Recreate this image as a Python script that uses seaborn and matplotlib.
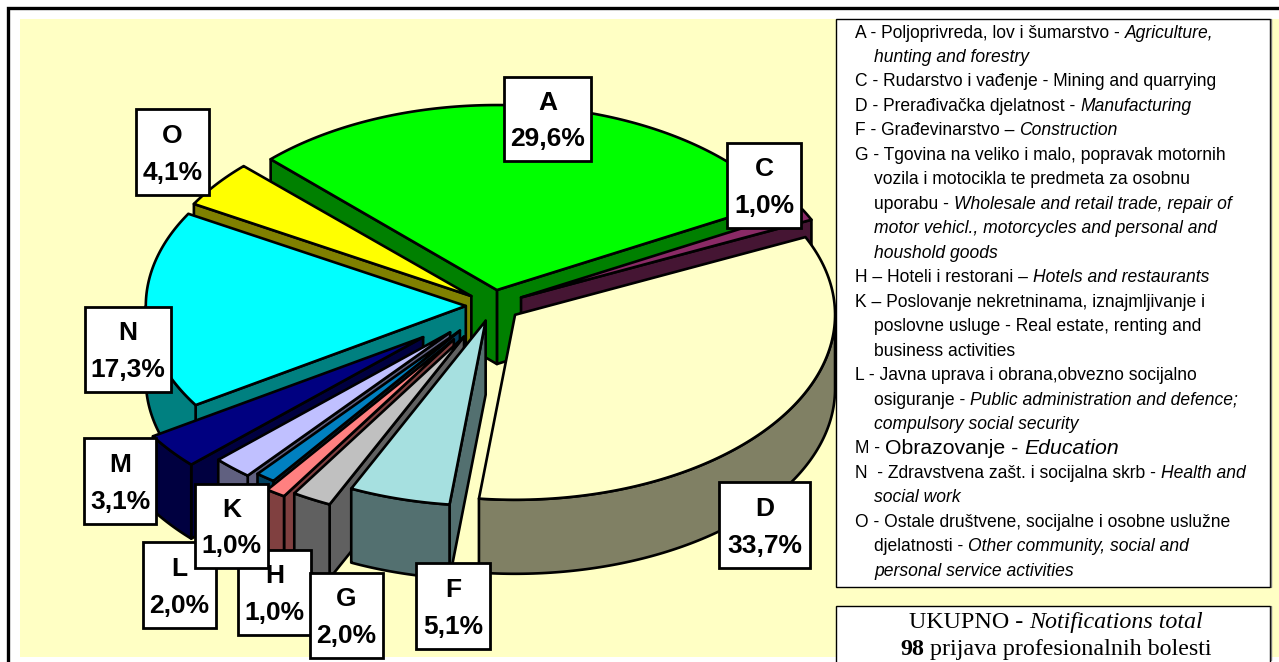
import matplotlib
matplotlib.use('Agg')
import matplotlib.pyplot as plt
from matplotlib.patches import Polygon, Rectangle
import numpy as np
import seaborn as sns

# data, clockwise from the top left edge of A
sections = ['A', 'C', 'D', 'F', 'G', 'H', 'K', 'L', 'M', 'N', 'O']
shares = [29.6, 1.0, 33.7, 5.1, 2.0, 1.0, 1.0, 2.0, 3.1, 17.3, 4.1]
top_colors = ['#00ff00', '#8a2a66', '#ffffc8', '#a6e0e0', '#c0c0c0', '#ff8080',
              '#0080c0', '#c0c0ff', '#000080', '#00ffff', '#ffff00']
explode = [.085, .098, .085, .085, .19, .22, .17, .197, .277, .085, .085]
draw_order = ['A', 'C', 'D', 'O', 'N', 'M', 'L', 'K', 'H', 'G', 'F']

legend_lines = [
    [('A - Poljoprivreda, lov i šumarstvo - ', 'n'), ('Agriculture,', 'i')],
    ['  ', ('hunting and forestry', 'i')],
    [('C - Rudarstvo i vađenje - Mining and quarrying', 'n')],
    [('D - Prerađivačka djelatnost - ', 'n'), ('Manufacturing', 'i')],
    [('F - Građevinarstvo – ', 'n'), ('Construction', 'i')],
    [('G - Tgovina na veliko i malo, popravak motornih', 'n')],
    ['  ', ('vozila i motocikla te predmeta za osobnu', 'n')],
    ['  ', ('uporabu - ', 'n'), ('Wholesale and retail trade, repair of', 'i')],
    ['  ', ('motor vehicl., motorcycles and personal and', 'i')],
    ['  ', ('houshold goods', 'i')],
    [('H – Hoteli i restorani – ', 'n'), ('Hotels and restaurants', 'i')],
    [('K – Poslovanje nekretninama, iznajmljivanje i', 'n')],
    ['  ', ('poslovne usluge - Real estate, renting and', 'n')],
    ['  ', ('business activities', 'n')],
    [('L - Javna uprava i obrana,obvezno socijalno', 'n')],
    ['  ', ('osiguranje - ', 'n'), ('Public administration and defence;', 'i')],
    ['  ', ('compulsory social security', 'i')],
    [('M - ', 'n'), ('Obrazovanje - ', 'w'), ('Education', 'wi')],
    [('N  - Zdravstvena zašt. i socijalna skrb - ', 'n'), ('Health and', 'i')],
    ['  ', ('social work', 'i')],
    [('O - Ostale društvene, socijalne i osobne uslužne', 'n')],
    ['  ', ('djelatnosti - ', 'n'), ('Other community, social and', 'i')],
    ['  ', ('personal service activities', 'i')],
]

sns.set_theme(style='white')

fig = plt.figure(figsize=(12.79, 6.62), dpi=100, facecolor='white')
ax = fig.add_axes([0, 0, 1, 1])
ax.set_xlim(0, 1279)
ax.set_ylim(662, 0)
ax.axis('off')

ax.add_patch(Rectangle((20, 19), 1259, 638, fc='#ffffc4', ec='none', zorder=0))
ax.plot([8, 8, 1279], [662, 8, 8], color='black', lw=2.4, solid_joinstyle='miter', zorder=1)

# pie geometry in pixels
cx, cy = 493, 305.6
rx, ry = 320, 185
depth = 74
edge = dict(ec='black', lw=1.9, joinstyle='round')


def point(x0, y0, deg):
    rad = np.radians(deg)
    return x0 + rx * np.cos(rad), y0 - ry * np.sin(rad)


def arc(x0, y0, a, b):
    deg = np.linspace(a, b, 120)
    return np.column_stack(point(x0, y0, deg))


palette = sns.color_palette(top_colors)
angles = 135 - np.concatenate([[0], np.cumsum(shares)]) * 3.6

z = 2
for name in draw_order:
    i = sections.index(name)
    start, end = angles[i], angles[i + 1]
    mid = (start + end) / 2
    x0, y0 = point(cx, cy, mid)
    x0 = cx + explode[i] * (x0 - cx)
    y0 = cy + explode[i] * (y0 - cy)
    side = tuple(c * .5 for c in palette[i])
    # only the walls that face the viewer
    walls = []
    if np.cos(np.radians(end)) > 0:
        walls.append(end)
    if np.cos(np.radians(start)) < 0:
        walls.append(start)
    for w in walls:
        ox, oy = point(x0, y0, w)
        ax.add_patch(Polygon([(x0, y0), (ox, oy), (ox, oy + depth), (x0, y0 + depth)],
                             fc=side, zorder=z, **edge))
    # outer rim, lower half of the ellipse
    a, b = min(start, 0), max(end, -180)
    if a > b:
        upper = arc(x0, y0, a, b)
        lower = upper[::-1] + [0, depth]
        ax.add_patch(Polygon(np.vstack([upper, lower]), fc=side, zorder=z, **edge))
    top = np.vstack([[(x0, y0)], arc(x0, y0, start, end)])
    ax.add_patch(Polygon(top, fc=palette[i], zorder=z + .5, **edge))
    z += 1

# value labels
label_boxes = {'H': (238, 550, 311, 635), 'G': (310, 573, 383, 658),
               'L': (143, 542, 216, 628), 'K': (195, 484, 268, 568),
               'F': (416, 563, 490, 649), 'M': (84, 438, 156, 524),
               'N': (85, 307, 171, 392), 'O': (136, 109, 209, 195),
               'A': (504, 77, 591, 161), 'C': (727, 143, 801, 228),
               'D': (719, 482, 810, 568)}
z = 30
for name, (x1, y1, x2, y2) in label_boxes.items():
    ax.add_patch(Rectangle((x1, y1), x2 - x1, y2 - y1, fc='white', ec='black', lw=2, zorder=z))
    share = shares[sections.index(name)]
    ax.text((x1 + x2) / 2, y1 + (y2 - y1) * .31, name, family='Liberation Sans', weight='bold',
            size=19, color='black', ha='center', va='center', zorder=z + .5)
    ax.text((x1 + x2) / 2, y1 + (y2 - y1) * .74, f'{share:.1f}%'.replace('.', ','),
            family='Liberation Sans', weight='bold', size=19, color='black',
            ha='center', va='center', zorder=z + .5)
    z += 1

# legend box
ax.add_patch(Rectangle((835.5, 18.5), 434.5, 568, fc='white', ec='black', lw=1, zorder=50))
ax.plot([1271, 1271], [19, 587], color='#777777', lw=1, zorder=50)
renderer = fig.canvas.get_renderer()
fonts = {'n': dict(family='Liberation Sans', size=12.65),
         'i': dict(family='Liberation Sans', size=12.65, style='italic'),
         'w': dict(family='Liberation Sans', size=15.3),
         'wi': dict(family='Liberation Sans', size=15.3, style='italic')}
for row, parts in enumerate(legend_lines):
    x = 855
    y = 31 + row * 24.47
    for part in parts:
        if part == '  ':
            x = 874
            continue
        txt, kind = part
        t = ax.text(x, y, txt, color='black', ha='left', va='center_baseline', zorder=51, **fonts[kind])
        x += t.get_window_extent(renderer).width

# total box
ax.add_patch(Rectangle((835.5, 605.5), 434.5, 58, fc='white', ec='black', lw=1, zorder=50))
ax.plot([1271, 1271], [606, 660], color='#777777', lw=1, zorder=50)
x = 909
for txt, kw in [('UKUPNO - ', {}), ('Notifications total', {'style': 'italic'})]:
    t = ax.text(x, 620, txt, family='Liberation Serif', size=17.3, color='black',
                ha='left', va='center_baseline', zorder=51, **kw)
    x += t.get_window_extent(renderer).width
x = 900
for txt, kw in [('98', {'weight': 'bold'}), (' prijava profesionalnih bolesti', {})]:
    t = ax.text(x, 647, txt, family='Liberation Serif', size=17.3, color='black',
                ha='left', va='center_baseline', zorder=51, **kw)
    x += t.get_window_extent(renderer).width

fig.savefig('out.png', dpi=100)
